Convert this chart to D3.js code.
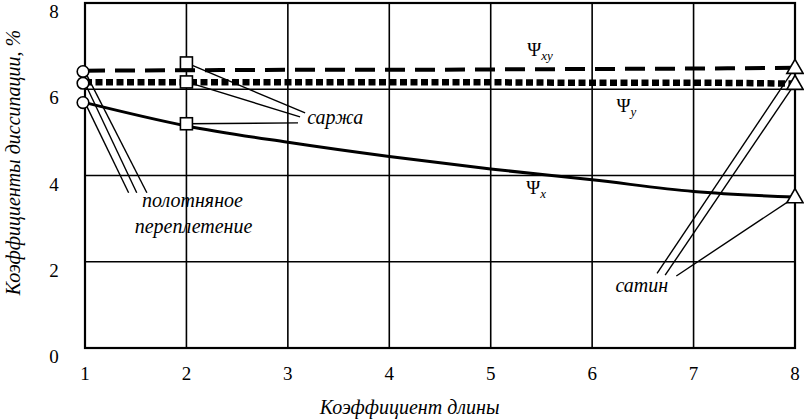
<!DOCTYPE html>
<html>
<head>
<meta charset="utf-8">
<script src="https://cdn.jsdelivr.net/npm/d3@7"></script>
<style>
  body { margin: 0; background: #fff; }
  svg text { font-family: "Liberation Serif", "Times New Roman", Tinos, Times, "DejaVu Serif", serif; fill: #000; }
  .tick-label { font-size: 19px; }
  .note { font-size: 20px; font-style: italic; }
  .psi { font-size: 19px; }
  .grid { stroke: #000; stroke-width: 1.6; }
  .leader { stroke: #000; stroke-width: 1.4; fill: none; }
  .marker { fill: #fff; stroke: #000; stroke-width: 1.6; }
</style>
</head>
<body>
<div class="wrapper"></div>
<script>
// size of the picture and the plot box inside it
var ultimatew = 804,
  ultimateh = 420,
  margin = { top: 3, right: 9, bottom: 72, left: 85 },
  width = ultimatew - margin.left - margin.right,
  height = ultimateh - margin.top - margin.bottom;

// length coefficient (x axis)
var lengthCoef = [1, 2, 3, 4, 5, 6, 7, 8];
var xTicks = [1, 2, 3, 4, 5, 6, 7, 8];
var yTicks = [0, 2, 4, 6, 8];

// dissipation coefficients, %
var psiXY = [6.43, 6.44, 6.45, 6.45, 6.46, 6.47, 6.48, 6.5];
var psiY = [6.16, 6.16, 6.16, 6.16, 6.16, 6.15, 6.15, 6.13];
var psiX = [5.69, 5.15, 4.77, 4.44, 4.15, 3.9, 3.63, 3.5];

// measured weaves: plain (circles), twill (squares), satin (triangles)
var plainCoef = 1,
  twillCoef = 2,
  satinCoef = 8;
var plainVals = [6.41, 6.14, 5.69];
var twillVals = [6.61, 6.17, 5.2];
var satinVals = [6.5, 6.13, 3.5];

// leader ends for the weave notes [coef, value]
var plainEnds = [[1.61, 3.6], [1.51, 3.6], [1.43, 3.6]];
var twillEnds = [[3.17, 5.45], [3.12, 5.36], [3.1, 5.22]];
var satinEnds = [[6.64, 1.73], [6.72, 1.69], [6.83, 1.67]];

var svg = d3
  .select(".wrapper")
  .append("svg")
  .attr("width", ultimatew)
  .attr("height", ultimateh)
  .append("g")
  .attr("transform", "translate(" + margin.left + "," + margin.top + ")");

var x = d3.scaleLinear().domain([1, 8]).range([0, width]);
var y = d3.scaleLinear().domain([0, 8]).range([height, 0]);

// grid
svg
  .selectAll("line.vgrid")
  .data(xTicks)
  .enter()
  .append("line")
  .attr("class", "grid")
  .attr("x1", function(d) { return x(d); })
  .attr("x2", function(d) { return x(d); })
  .attr("y1", 0)
  .attr("y2", height);

svg
  .selectAll("line.hgrid")
  .data(yTicks)
  .enter()
  .append("line")
  .attr("class", "grid")
  .attr("x1", 0)
  .attr("x2", width)
  .attr("y1", function(d) { return y(d); })
  .attr("y2", function(d) { return y(d); });

svg
  .append("rect")
  .attr("width", width)
  .attr("height", height)
  .attr("fill", "none")
  .attr("stroke", "#000")
  .attr("stroke-width", 2.2);

// tick labels
svg
  .selectAll("text.xt")
  .data(xTicks)
  .enter()
  .append("text")
  .attr("class", "tick-label")
  .attr("text-anchor", "middle")
  .attr("x", function(d) { return x(d); })
  .attr("y", height + 32)
  .text(function(d) { return d; });

svg
  .selectAll("text.yt")
  .data(yTicks)
  .enter()
  .append("text")
  .attr("class", "tick-label")
  .attr("text-anchor", "middle")
  .attr("x", -31)
  .attr("y", function(d) { return y(d) + 15; })
  .text(function(d) { return d; });

// axis titles
svg
  .append("text")
  .attr("class", "note")
  .attr("text-anchor", "middle")
  .attr("font-size", "19px")
  .attr("x", x(4.2))
  .attr("y", height + 66)
  .text("Коэффициент длины");

svg
  .append("text")
  .attr("class", "note")
  .attr("text-anchor", "middle")
  .attr("font-size", "21px")
  .attr("transform", "translate(" + -65 + "," + y(4.3) + ") rotate(-90)")
  .text("Коэффициенты диссипации, %");

// curves
function drawSeries(vals, dash, w) {
  var line = d3
    .line()
    .x(function(d, i) { return x(lengthCoef[i]); })
    .y(function(d) { return y(d); })
    .curve(d3.curveMonotoneX);
  svg
    .append("path")
    .datum(vals)
    .attr("fill", "none")
    .attr("stroke", "#000")
    .attr("stroke-width", w)
    .attr("stroke-dasharray", dash)
    .attr("d", line);
}

drawSeries(psiXY, "20,10", 4);
drawSeries(psiY, "7,3.5", 6.5);
drawSeries(psiX, null, 3);

// leader lines from each marker to its note
function drawLeaders(coef, vals, ends) {
  svg
    .selectAll(null)
    .data(vals)
    .enter()
    .append("line")
    .attr("class", "leader")
    .attr("x1", x(coef))
    .attr("y1", function(d) { return y(d); })
    .attr("x2", function(d, i) { return x(ends[i][0]); })
    .attr("y2", function(d, i) { return y(ends[i][1]); });
}

drawLeaders(plainCoef, plainVals, plainEnds);
drawLeaders(twillCoef, twillVals, twillEnds);
drawLeaders(satinCoef, satinVals, satinEnds);

// markers
svg
  .selectAll("circle.plain")
  .data(plainVals)
  .enter()
  .append("circle")
  .attr("class", "marker")
  .attr("cx", x(plainCoef) - 2)
  .attr("cy", function(d) { return y(d); })
  .attr("r", 5.8);

svg
  .selectAll("rect.twill")
  .data(twillVals)
  .enter()
  .append("rect")
  .attr("class", "marker")
  .attr("x", x(twillCoef) - 6)
  .attr("y", function(d) { return y(d) - 6; })
  .attr("width", 12)
  .attr("height", 12);

var tri = d3.symbol().type(d3.symbolTriangle).size(115);
svg
  .selectAll("path.satin")
  .data(satinVals)
  .enter()
  .append("path")
  .attr("class", "marker")
  .attr("transform", function(d) {
    return "translate(" + x(satinCoef) + "," + (y(d) + 1) + ")";
  })
  .attr("d", tri);

// notes
function note(txt, cx, cy, anchor) {
  svg
    .append("text")
    .attr("class", "note")
    .attr("text-anchor", anchor || "start")
    .attr("x", x(cx))
    .attr("y", y(cy))
    .text(txt);
}

note("полотняное", 2.06, 3.27, "middle");
note("переплетение", 2.07, 2.67, "middle");
note("саржа", 3.19, 5.2);
note("сатин", 6.23, 1.3);

// psi labels
function psiLabel(sub, cx, cy) {
  var t = svg
    .append("text")
    .attr("class", "psi")
    .attr("x", x(cx))
    .attr("y", y(cy));
  t.append("tspan").text("Ψ");
  t.append("tspan")
    .attr("dy", 4)
    .attr("font-size", "13px")
    .attr("font-style", "italic")
    .text(sub);
}

psiLabel("xy", 5.36, 6.78);
psiLabel("y", 6.24, 5.48);
psiLabel("x", 5.35, 3.56);
</script>
</body>
</html>
